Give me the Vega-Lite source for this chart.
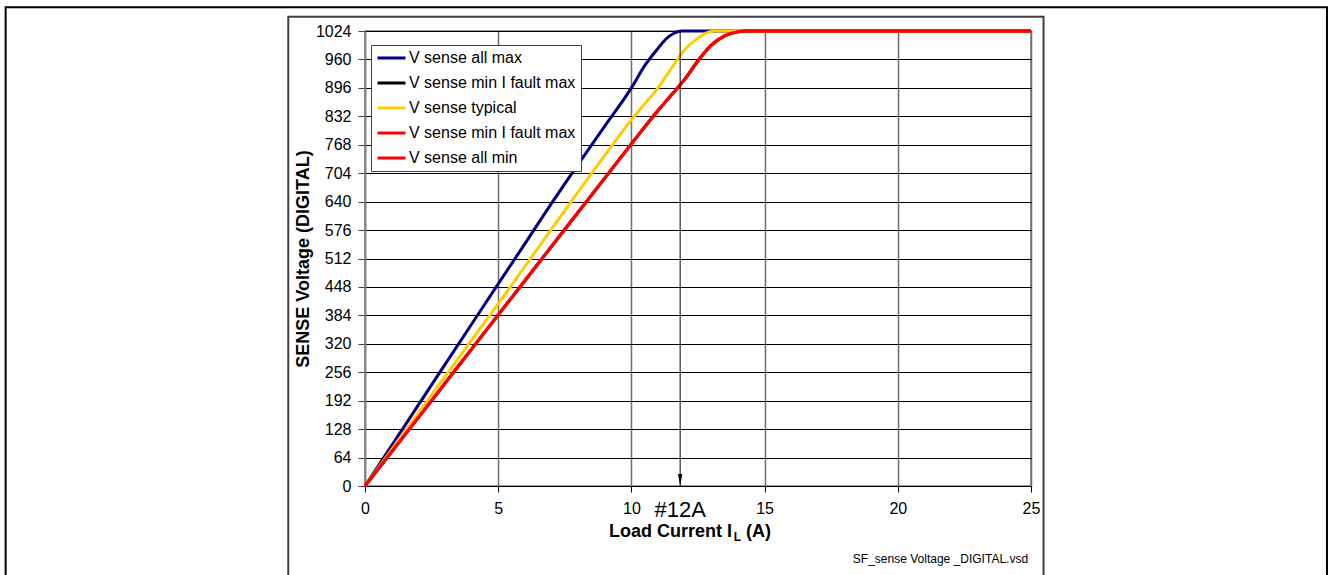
{
  "$schema": "https://vega.github.io/schema/vega-lite/v6.json",
  "width": 666,
  "height": 455,
  "autosize": {"type": "none"},
  "padding": {"left": 365, "top": 31, "right": 298, "bottom": 89},
  "background": "white",
  "config": {
    "font": "Liberation Sans",
    "view": {"stroke": "#808080", "strokeWidth": 1.5},
    "axis": {"labelFont": "Liberation Sans", "titleFont": "Liberation Sans", "labelColor": "black", "titleColor": "black", "labelFlush": false},
    "legend": {"labelFont": "Liberation Sans"}
  },
  "datasets": {
    "curves": [
      {"series": "V sense all max", "x": 0, "y": 0},
      {"series": "V sense all max", "x": 1, "y": 91},
      {"series": "V sense all max", "x": 2, "y": 182},
      {"series": "V sense all max", "x": 3, "y": 273},
      {"series": "V sense all max", "x": 4, "y": 364},
      {"series": "V sense all max", "x": 5, "y": 455},
      {"series": "V sense all max", "x": 6, "y": 545},
      {"series": "V sense all max", "x": 7, "y": 636},
      {"series": "V sense all max", "x": 8, "y": 724},
      {"series": "V sense all max", "x": 9, "y": 810},
      {"series": "V sense all max", "x": 10, "y": 896},
      {"series": "V sense all max", "x": 10.5, "y": 946},
      {"series": "V sense all max", "x": 11, "y": 985},
      {"series": "V sense all max", "x": 11.3, "y": 1006},
      {"series": "V sense all max", "x": 11.6, "y": 1019},
      {"series": "V sense all max", "x": 11.9, "y": 1024},
      {"series": "V sense all max", "x": 25, "y": 1024},
      {"series": "V sense min I fault max (black)", "x": 0, "y": 0},
      {"series": "V sense min I fault max (black)", "x": 1, "y": 77},
      {"series": "V sense min I fault max (black)", "x": 2, "y": 154},
      {"series": "V sense min I fault max (black)", "x": 3, "y": 231},
      {"series": "V sense min I fault max (black)", "x": 4, "y": 308},
      {"series": "V sense min I fault max (black)", "x": 5, "y": 385},
      {"series": "V sense min I fault max (black)", "x": 6, "y": 462},
      {"series": "V sense min I fault max (black)", "x": 7, "y": 539},
      {"series": "V sense min I fault max (black)", "x": 8, "y": 616},
      {"series": "V sense min I fault max (black)", "x": 9, "y": 693},
      {"series": "V sense min I fault max (black)", "x": 10, "y": 770},
      {"series": "V sense min I fault max (black)", "x": 11, "y": 845},
      {"series": "V sense min I fault max (black)", "x": 11.5, "y": 880},
      {"series": "V sense min I fault max (black)", "x": 12, "y": 915},
      {"series": "V sense min I fault max (black)", "x": 12.5, "y": 957},
      {"series": "V sense min I fault max (black)", "x": 13, "y": 992},
      {"series": "V sense min I fault max (black)", "x": 13.5, "y": 1013},
      {"series": "V sense min I fault max (black)", "x": 14, "y": 1022},
      {"series": "V sense min I fault max (black)", "x": 14.3, "y": 1024},
      {"series": "V sense min I fault max (black)", "x": 25, "y": 1024},
      {"series": "V sense typical", "x": 0, "y": 0},
      {"series": "V sense typical", "x": 1, "y": 82},
      {"series": "V sense typical", "x": 2, "y": 164},
      {"series": "V sense typical", "x": 3, "y": 246},
      {"series": "V sense typical", "x": 4, "y": 328},
      {"series": "V sense typical", "x": 5, "y": 410},
      {"series": "V sense typical", "x": 6, "y": 494},
      {"series": "V sense typical", "x": 7, "y": 578},
      {"series": "V sense typical", "x": 8, "y": 662},
      {"series": "V sense typical", "x": 9, "y": 744},
      {"series": "V sense typical", "x": 10, "y": 824},
      {"series": "V sense typical", "x": 10.5, "y": 860},
      {"series": "V sense typical", "x": 11, "y": 896},
      {"series": "V sense typical", "x": 11.5, "y": 940},
      {"series": "V sense typical", "x": 12, "y": 982},
      {"series": "V sense typical", "x": 12.5, "y": 1008},
      {"series": "V sense typical", "x": 12.8, "y": 1019},
      {"series": "V sense typical", "x": 13.1, "y": 1024},
      {"series": "V sense typical", "x": 25, "y": 1024},
      {"series": "V sense min I fault max (red)", "x": 0, "y": 0},
      {"series": "V sense min I fault max (red)", "x": 1, "y": 77},
      {"series": "V sense min I fault max (red)", "x": 2, "y": 154},
      {"series": "V sense min I fault max (red)", "x": 3, "y": 231},
      {"series": "V sense min I fault max (red)", "x": 4, "y": 308},
      {"series": "V sense min I fault max (red)", "x": 5, "y": 385},
      {"series": "V sense min I fault max (red)", "x": 6, "y": 462},
      {"series": "V sense min I fault max (red)", "x": 7, "y": 539},
      {"series": "V sense min I fault max (red)", "x": 8, "y": 616},
      {"series": "V sense min I fault max (red)", "x": 9, "y": 693},
      {"series": "V sense min I fault max (red)", "x": 10, "y": 770},
      {"series": "V sense min I fault max (red)", "x": 11, "y": 845},
      {"series": "V sense min I fault max (red)", "x": 11.5, "y": 880},
      {"series": "V sense min I fault max (red)", "x": 12, "y": 915},
      {"series": "V sense min I fault max (red)", "x": 12.5, "y": 957},
      {"series": "V sense min I fault max (red)", "x": 13, "y": 992},
      {"series": "V sense min I fault max (red)", "x": 13.5, "y": 1013},
      {"series": "V sense min I fault max (red)", "x": 14, "y": 1022},
      {"series": "V sense min I fault max (red)", "x": 14.3, "y": 1024},
      {"series": "V sense min I fault max (red)", "x": 25, "y": 1024},
      {"series": "V sense all min", "x": 0, "y": 0},
      {"series": "V sense all min", "x": 1, "y": 77},
      {"series": "V sense all min", "x": 2, "y": 154},
      {"series": "V sense all min", "x": 3, "y": 231},
      {"series": "V sense all min", "x": 4, "y": 308},
      {"series": "V sense all min", "x": 5, "y": 385},
      {"series": "V sense all min", "x": 6, "y": 462},
      {"series": "V sense all min", "x": 7, "y": 539},
      {"series": "V sense all min", "x": 8, "y": 616},
      {"series": "V sense all min", "x": 9, "y": 693},
      {"series": "V sense all min", "x": 10, "y": 770},
      {"series": "V sense all min", "x": 11, "y": 845},
      {"series": "V sense all min", "x": 11.5, "y": 880},
      {"series": "V sense all min", "x": 12, "y": 915},
      {"series": "V sense all min", "x": 12.5, "y": 957},
      {"series": "V sense all min", "x": 13, "y": 992},
      {"series": "V sense all min", "x": 13.5, "y": 1013},
      {"series": "V sense all min", "x": 14, "y": 1022},
      {"series": "V sense all min", "x": 14.3, "y": 1024},
      {"series": "V sense all min", "x": 25, "y": 1024}
    ]
  },
  "encoding": {
    "x": {
      "field": "x", "type": "quantitative",
      "scale": {"domain": [0, 25], "nice": false, "zero": false},
      "axis": {
        "title": null, "values": [0, 5, 10, 15, 20, 25],
        "labelFontSize": 16, "labelPadding": 8, "tickSize": 6, "tickColor": "black", "labelFlush": false,
        "grid": true, "gridColor": "#6e6e6e", "gridWidth": 1.5,
        "domainColor": "black", "domainWidth": 1
      }
    },
    "y": {
      "field": "y", "type": "quantitative",
      "scale": {"domain": [0, 1024], "nice": false, "zero": false},
      "axis": {
        "title": "SENSE Voltage  (DIGITAL)", "titleFontSize": 18, "titleFontWeight": "bold", "titlePadding": 3,
        "values": [0, 64, 128, 192, 256, 320, 384, 448, 512, 576, 640, 704, 768, 832, 896, 960, 1024],
        "format": "d", "labelFlush": false,
        "labelFontSize": 16, "labelPadding": 7, "tickSize": 7, "tickColor": "#404040",
        "grid": true, "gridColor": "black", "gridWidth": 1,
        "domainColor": "#808080", "domainWidth": 1.5, "labelOverlap": false
      }
    }
  },
  "layer": [
    {
      "data": {"values": [{"x": -2.88, "x2": 25.47, "y": 1056.2, "y2": -234}]},
      "mark": {"type": "rect", "filled": false, "stroke": "#404040", "strokeWidth": 2},
      "encoding": {"x2": {"field": "x2"}, "y2": {"field": "y2"}}
    },
    {
      "data": {"values": [{"x": -13.49, "x2": 36.11, "y": 1077.5, "y2": -234}]},
      "mark": {"type": "rect", "filled": false, "stroke": "black", "strokeWidth": 2},
      "encoding": {"x2": {"field": "x2"}, "y2": {"field": "y2"}}
    },
    {
      "data": {"name": "curves"},
      "mark": {"type": "line", "strokeWidth": 3, "interpolate": "monotone"},
      "encoding": {
        "color": {
          "field": "series", "type": "nominal",
          "scale": {
            "domain": ["V sense all max", "V sense min I fault max (black)", "V sense typical", "V sense min I fault max (red)", "V sense all min"],
            "range": ["#000080", "#000000", "#FFCC00", "#FF0000", "#FF0000"]
          },
          "legend": {
            "title": null, "orient": "none", "legendX": 6, "legendY": 14,
            "labelExpr": "replace(replace(datum.label, ' (black)', ''), ' (red)', '')",
            "fillColor": "white", "strokeColor": "#404040", "padding": 5,
            "rowPadding": 9, "labelFontSize": 16, "labelOffset": 2, "labelLimit": 400,
            "symbolType": "stroke", "symbolSize": 784, "symbolStrokeWidth": 3, "clipHeight": 16
          }
        },
        "order": {"field": "x", "type": "quantitative"}
      }
    },
    {
      "data": {"values": [{"x": 11.83, "y": 0, "y2": 1024}]},
      "mark": {"type": "rule", "color": "black", "strokeWidth": 1},
      "encoding": {"y2": {"field": "y2"}}
    },
    {
      "data": {"values": [{"x": 11.83, "y": 0}]},
      "mark": {"type": "point", "shape": "M-0.35,-2L0.35,-2L0,0Z", "size": 144, "filled": true, "color": "black", "opacity": 1, "strokeWidth": 0},
      "encoding": {}
    },
    {
      "data": {"values": [{"label": "#12A", "x": 11.83, "y": -69.8}]},
      "mark": {"type": "text", "fontSize": 22, "align": "center", "baseline": "alphabetic", "color": "black"},
      "encoding": {"text": {"field": "label"}}
    },
    {
      "data": {"values": [{"label": "Load Current I", "x": 13.78, "y": -114.8}]},
      "mark": {"type": "text", "fontSize": 18, "fontWeight": "bold", "align": "right", "baseline": "alphabetic", "color": "black"},
      "encoding": {"text": {"field": "label"}}
    },
    {
      "data": {"values": [{"label": "(A)", "x": 14.3, "y": -114.8}]},
      "mark": {"type": "text", "fontSize": 18, "fontWeight": "bold", "align": "left", "baseline": "alphabetic", "color": "black"},
      "encoding": {"text": {"field": "label"}}
    },
    {
      "data": {"values": [{"label": "L", "x": 13.84, "y": -123.8}]},
      "mark": {"type": "text", "fontSize": 12, "fontWeight": "bold", "align": "left", "baseline": "alphabetic", "color": "black"},
      "encoding": {"text": {"field": "label"}}
    },
    {
      "data": {"values": [{"label": "SF_sense Voltage  _DIGITAL.vsd", "x": 24.89, "y": -173.3}]},
      "mark": {"type": "text", "fontSize": 12, "align": "right", "baseline": "alphabetic", "color": "black"},
      "encoding": {"text": {"field": "label"}}
    }
  ]
}
